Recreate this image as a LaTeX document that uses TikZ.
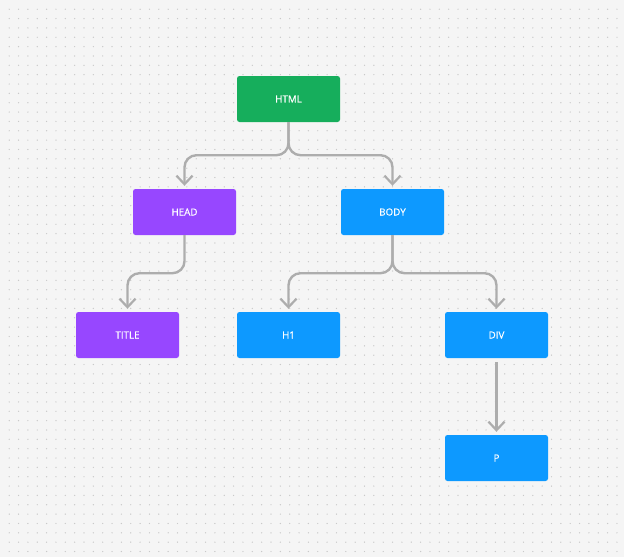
\documentclass[tikz,border=0pt]{standalone}
\usepackage{fontspec}
\setmainfont{Open Sans}[FakeBold=0.35]
\usetikzlibrary{arrows.meta,calc}
\definecolor{bg}{HTML}{F5F5F5}
\definecolor{dotc}{HTML}{C9C9C9}
\definecolor{fgreen}{HTML}{16AE5C}
\definecolor{fpurple}{HTML}{9747FF}
\definecolor{fblue}{HTML}{0D99FF}
\definecolor{linec}{HTML}{ADADAD}
\tikzset{
  box/.style={rectangle, rounded corners=2.5pt, minimum width=103pt, minimum height=46pt, inner sep=0pt, text=white, font=\fontsize{9.8}{11}\selectfont},
  conn/.style={draw=linec, line width=2.4pt, rounded corners=12pt, -{Straight Barb[length=8.5pt,width=16pt,line width=2.2pt]}, shorten >=3pt}
}
\begin{document}
\begin{tikzpicture}[x=1pt,y=-1pt]
\useasboundingbox (0,0) rectangle (624,557);
\fill[bg] (0,0) rectangle (624,557);
\foreach \i in {0,...,66}{
  \foreach \j in {0,...,59}{
    \fill[dotc] ({9.2+9.35*\i},{9.2+9.35*\j}) circle (0.7pt);
  }
}
\node[box, fill=fgreen] (html) at (288.5,99) {HTML};
\node[box, fill=fpurple] (head) at (184.5,212) {HEAD};
\node[box, fill=fblue] (body) at (392.5,212) {BODY};
\node[box, fill=fpurple] (title) at (127.5,335) {TITLE};
\node[box, fill=fblue] (h1) at (288.5,335) {H1};
\node[box, fill=fblue] (div) at (496.5,335) {DIV};
\node[box, fill=fblue] (p) at (496.5,458) {P};
\draw[conn] (html.south) -- ($(html.south)+(0,33)$) -| (head.north);
\draw[conn] (html.south) -- ($(html.south)+(0,33)$) -| (body.north);
\draw[conn] (head.south) -- ($(head.south)+(0,38)$) -| (title.north);
\draw[conn] (body.south) -- ($(body.south)+(0,38)$) -| (h1.north);
\draw[conn] (body.south) -- ($(body.south)+(0,38)$) -| (div.north);
\draw[conn, shorten <=4pt] (div.south) -- (p.north);
\end{tikzpicture}
\end{document}
